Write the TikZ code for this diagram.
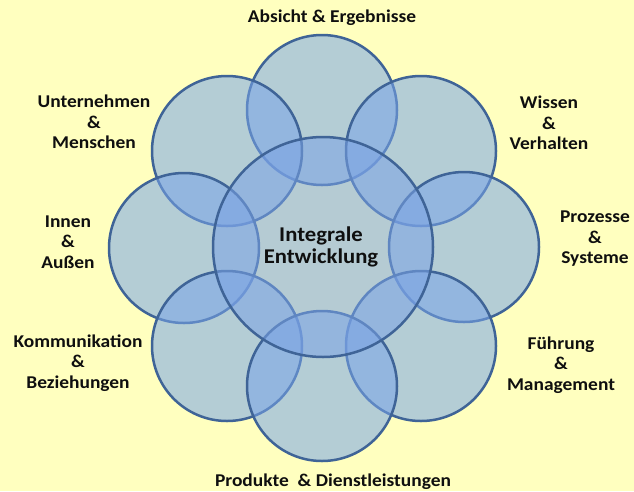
\documentclass[tikz,border=0pt]{standalone}
\usepackage{fontspec}
\setmainfont{Carlito}[FakeStretch=1.08]
\definecolor{bgyellow}{HTML}{FFFFBF}
\definecolor{ringfill}{HTML}{78A4E8}
\definecolor{hubfill}{HTML}{7AA2E4}
\definecolor{ringline}{HTML}{3F6497}
\definecolor{txt}{HTML}{0F0F0F}
\begin{document}
\begin{tikzpicture}[x=1pt,y=-1pt,
  ring/.style={circle, draw=ringline, line width=2.5pt, fill=ringfill, fill opacity=0.55, draw opacity=1, inner sep=0pt, minimum size=150pt},
  hub/.style={ring, fill=hubfill, minimum size=220pt},
  lbl/.style={text=txt, font=\fontsize{18}{20.5}\selectfont\bfseries, align=center, inner sep=0pt},
  hubtxt/.style={text=txt, font=\fontsize{21}{22.5}\selectfont\bfseries, align=center, inner sep=0pt, text opacity=1}]
\fill[bgyellow] (0,0) rectangle (634,491);
\useasboundingbox (0,0) rectangle (634,491);
\node[ring] (top) at (322,110) {};
\node[ring] (ul) at (227,151) {};
\node[ring] (ur) at (421,151) {};
\node[ring] (left) at (184,248) {};
\node[ring] (right) at (464,247) {};
\node[ring] (ll) at (227,346) {};
\node[ring] (lr) at (421,346) {};
\node[ring] (bottom) at (322,386) {};
\node[hub] (hub) at (323,247) {};
\node[hubtxt] (hubl) at (321,247) {Integrale\\Entwicklung};
\node[lbl] (ltop) at (332,18) {Absicht \& Ergebnisse};
\node[lbl] (lul) at (94,122) {Unternehmen\\\&\\Menschen};
\node[lbl] (lur) at (549,123) {Wissen\\\&\\Verhalten};
\node[lbl] (lleft) at (68,242) {Innen\\\&\\Außen};
\node[lbl] (lright) at (595,239) {Prozesse\\\&\\Systeme};
\node[lbl] (lll) at (78,363) {Kommunikation\\\&\\Beziehungen};
\node[lbl] (llr) at (561,365) {Führung\\\&\\Management};
\node[lbl] (lbottom) at (333,482) {Produkte\ \ \& Dienstleistungen};
\end{tikzpicture}
\end{document}
